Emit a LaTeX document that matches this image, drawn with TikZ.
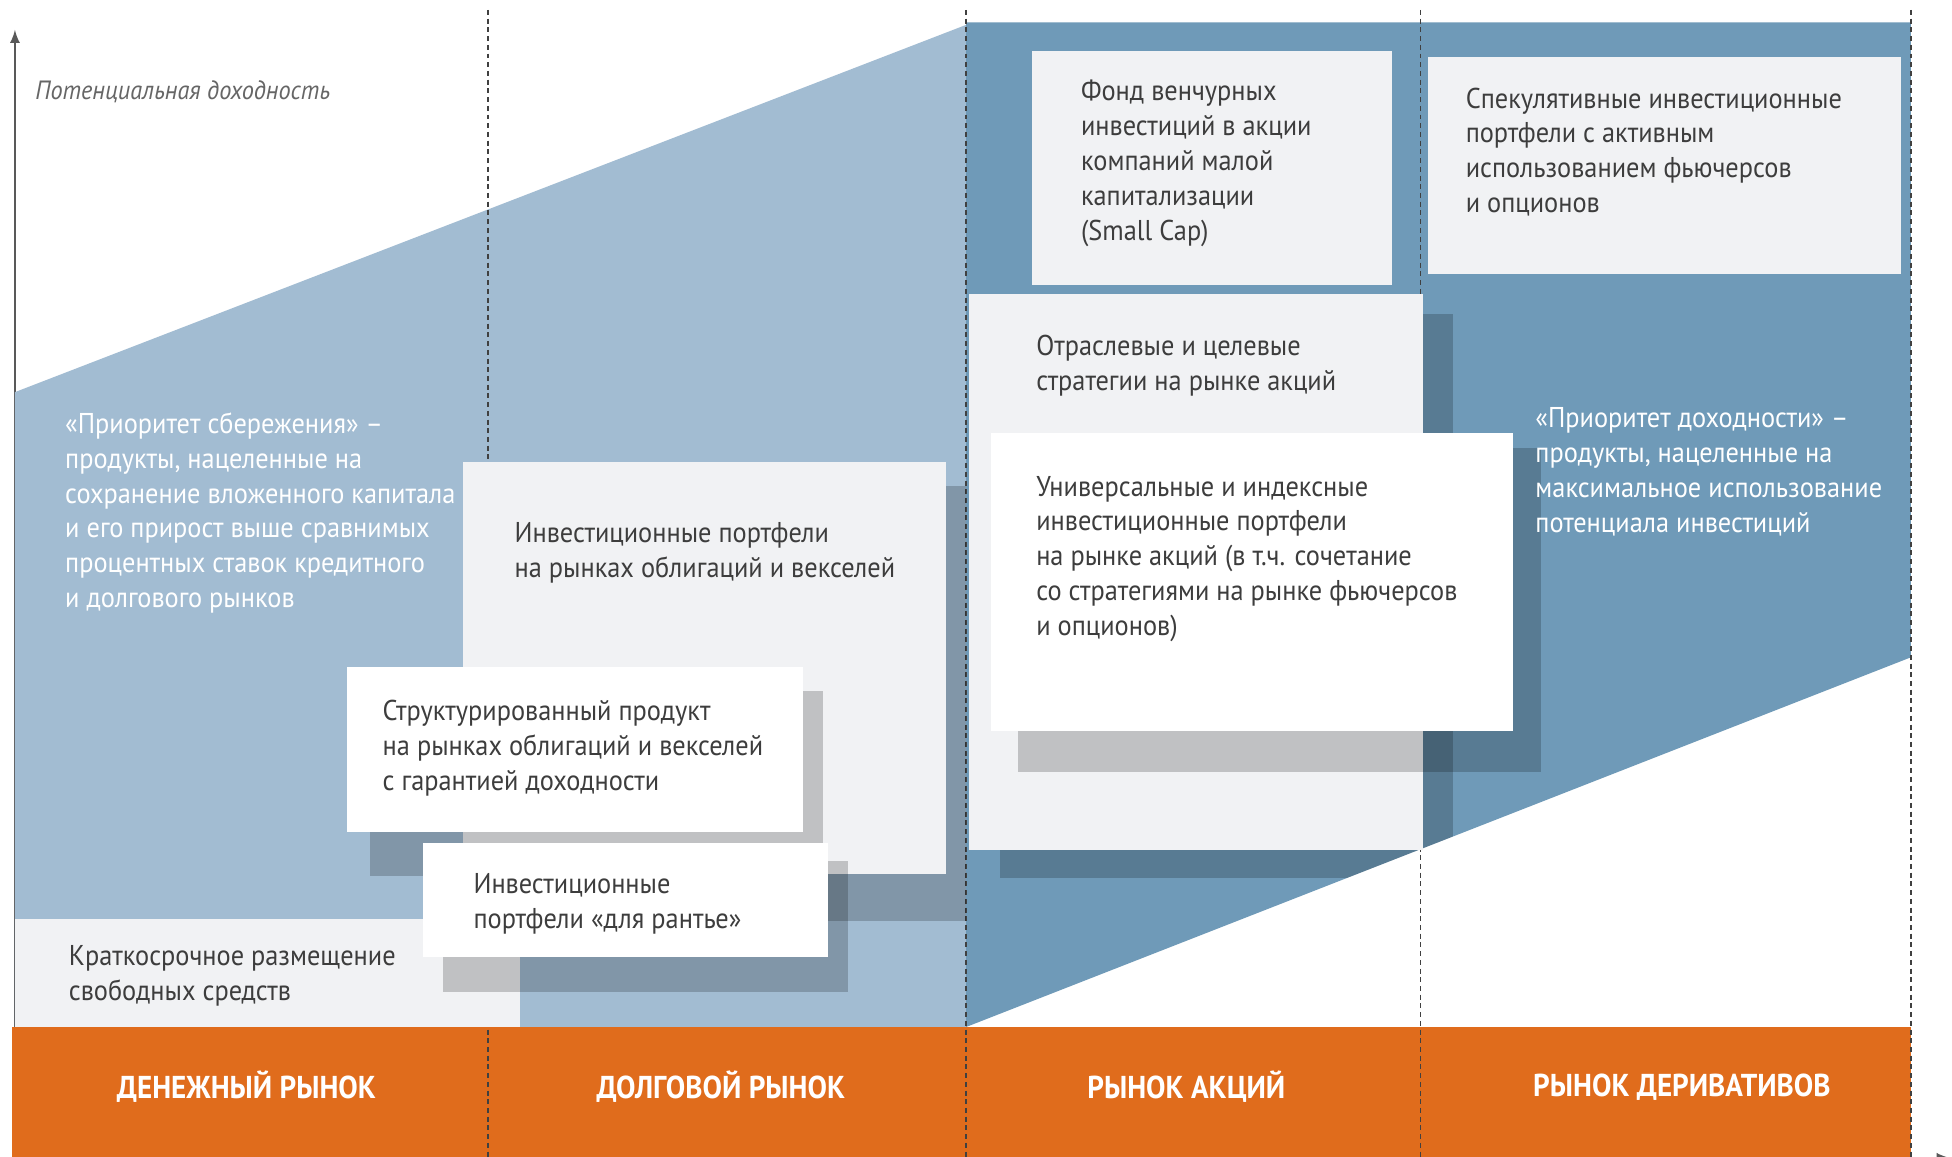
\documentclass[tikz,border=0pt]{standalone}
\usepackage{fontspec}
\setmainfont{PT Sans}[FakeStretch=0.92]
\usepackage{xcolor}
\usetikzlibrary{calc,arrows}
\definecolor{paleblue}{HTML}{A2BCD2}
\definecolor{deepblue}{HTML}{6F9AB8}
\definecolor{cardgray}{HTML}{F1F2F4}
\definecolor{bandorange}{HTML}{E06C1C}
\definecolor{inkgray}{HTML}{3D3D3D}
\tikzset{
	card/.style={fill=cardgray},
	cardshadow/.style={fill=black,fill opacity=0.2},
	boxtext/.style={anchor=north west,align=left,inner sep=0pt,text=inkgray,font=\fontsize{11.5}{14}\selectfont,execute at begin node=\strut},
	bluetext/.style={boxtext,text=white},
	market/.style={text=white,inner sep=0pt,font=\fontsize{12.7}{15}\selectfont\bfseries},
	divider/.style={draw=black!75,line width=0.6pt,dash pattern=on 2pt off 1.5pt},
}

\begin{document}
\begin{tikzpicture}[x=0.5pt,y=-0.5pt]
		\useasboundingbox[fill=white] (0,0) rectangle (1568,929);
		\draw[black!65,line width=0.8pt,-latex] (12,929) -- (12,24);
		\draw[black!65,line width=0.8pt,-latex] (12,930) -- (1566,930);
		\node[anchor=west,inner sep=0pt,text=black!60,font=\fontsize{10.6}{12}\selectfont\itshape] (yield) at (28,74) {Потенциальная доходность};
		
		\fill[paleblue] (12,315) -- (776,20) -- (776,825) -- (12,825) -- cycle;
		\fill[deepblue] (776,18) -- (1535,18) -- (1535,528) -- (776,825) -- cycle;
		\fill[bandorange] (10,825) rectangle (1535,935);
		\foreach \x in {392,776,1141,1535} {
			\draw[divider] (\x,8) -- (\x,929);
		};
		\foreach \x/\t [count=\i] in {198/ДЕНЕЖНЫЙ РЫНОК,579/ДОЛГОВОЙ РЫНОК,953/РЫНОК АКЦИЙ,1351/РЫНОК ДЕРИВАТИВОВ} {
			\node[market] (m\i) at (\x,873) {\t};
		};
		
		\fill[card] (12,738) rectangle (418,825);
		\node[boxtext] (cash) at (55,759) {Краткосрочное размещение\\свободных средств};
		\node[bluetext] (save) at (52,331) {«Приоритет сбережения» –\\продукты, нацеленные на\\сохранение вложенного капитала\\и его прирост выше сравнимых\\процентных ставок кредитного\\и долгового рынков};
		\fill[cardshadow] (390,390) rectangle (776,740);
		\fill[card] (372,371) rectangle (760,702);
		\node[boxtext] (bonds) at (413,419) {Инвестиционные портфели\\на рынках облигаций и векселей};
		\fill[cardshadow] (297,555) rectangle (661,704);
		\fill[white] (279,536) rectangle (645,668);
		\node[boxtext] (struct) at (307,562) {Структурированный продукт\\на рынках облигаций и векселей\\с гарантией доходности};
		\fill[cardshadow] (356,692) rectangle (681,797);
		\fill[white] (340,677) rectangle (665,769);
		\node[boxtext] (rent) at (380,701) {Инвестиционные\\портфели «для рантье»};
		
		\fill[card] (829,41) rectangle (1118,229);
		\node[boxtext] (fund) at (868,64) {Фонд венчурных\\инвестиций в акции\\компаний малой\\капитализации\\(Small Cap)};
		\fill[card] (1147,46) rectangle (1527,220);
		\node[boxtext] (spec) at (1177,70) {Спекулятивные инвестиционные\\портфели с активным\\использованием фьючерсов\\и опционов};
		\begin{scope}
			\clip (776,18) -- (1535,18) -- (1535,528) -- (776,825) -- cycle;
			\fill[cardshadow] (803,252) rectangle (1167,705);
		\end{scope}
		\fill[card] (778,236) rectangle (1143,683);
		\node[boxtext] (sector) at (832,269) {Отраслевые и целевые\\стратегии на рынке акций};
		\fill[cardshadow] (818,360) rectangle (1238,620);
		\fill[white] (796,348) rectangle (1215,587);
		\node[boxtext] (index) at (832,382) {Универсальные и индексные\\инвестиционные портфели\\на рынке акций (в т.ч. сочетание\\со стратегиями на рынке фьючерсов\\и опционов)};
		\node[bluetext] (gain) at (1233,327) {«Приоритет доходности» –\\продукты, нацеленные на\\максимальное использование\\потенциала инвестиций};
	\end{tikzpicture}
\end{document}
